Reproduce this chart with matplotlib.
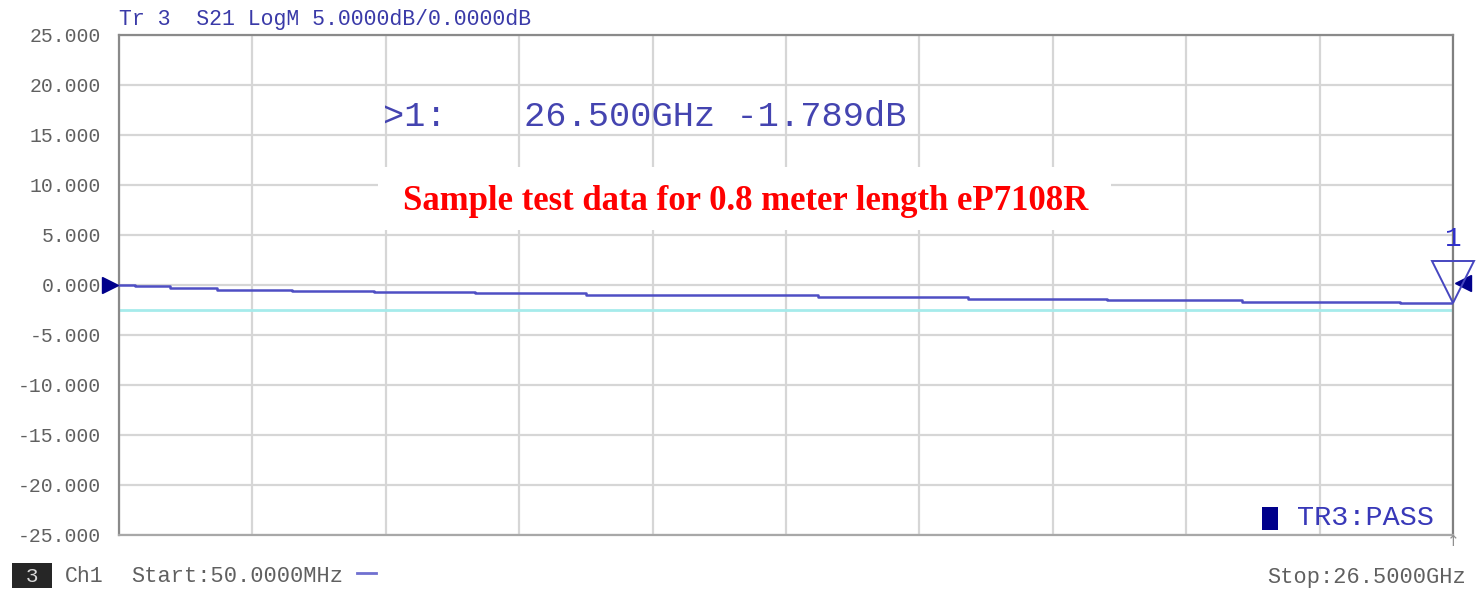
import matplotlib
matplotlib.use("Agg")
import matplotlib.pyplot as plt
import matplotlib.transforms as mtransforms
from matplotlib.patches import Rectangle
from matplotlib.lines import Line2D
import numpy as np

freq_ghz = [0.05, 0.37, 1.06, 1.99, 3.48, 5.11, 7.11, 9.31, 11.43, 13.91, 16.88, 19.64, 22.32, 25.45, 26.5]
s21_db = [0.00, -0.07, -0.30, -0.47, -0.60, -0.73, -0.83, -0.97, -1.03, -1.23, -1.37, -1.53, -1.67, -1.77, -1.789]

limit_db = -2.5
f_start, f_stop = 0.05, 26.5
y_ticks = [25, 20, 15, 10, 5, 0, -5, -10, -15, -20, -25]
y_labels = ["%.3f" % v for v in y_ticks]

marker_freq = 26.5
marker_db = -1.789

MONO = "Liberation Mono"
TRACE = "#4f4fc4"
NAVY = "#00008b"
GRAY = "#606060"

fig = plt.figure(figsize=(14.76, 5.92), dpi=100)
ax = fig.add_axes([119 / 1476, 1 - 535 / 592, 1334 / 1476, 500 / 592])

ax.set_xlim(f_start, f_stop)
ax.set_ylim(-25, 25)
ax.set_xticks(np.linspace(f_start, f_stop, 11))
ax.set_xticklabels([])
ax.set_yticks(y_ticks)
ax.set_yticklabels(y_labels, family=MONO, fontsize=14.2, color=GRAY)
ax.tick_params(length=0, pad=13)
ax.grid(True, color="#d6d6d6", linewidth=1.6)
ax.set_axisbelow(True)
for side, col in [("left", "#8a8a8a"), ("bottom", "#a8a8a8"), ("top", "#8a8a8a"), ("right", "#808080")]:
    ax.spines[side].set_color(col)
    ax.spines[side].set_linewidth(1.6)

# white box behind the caption
ax.add_patch(Rectangle(((378 - 119) / 1334, (535 - 230) / 500), 733 / 1334, 63 / 500,
                       transform=ax.transAxes, facecolor="white", edgecolor="none", zorder=1))

# limit line and trace
ax.plot([f_start, f_stop], [limit_db, limit_db], color="#a6ebeb", linewidth=2, zorder=2)
ax.plot(freq_ghz, s21_db, drawstyle="steps-post", color=TRACE, linewidth=1.8, zorder=3)

# reference arrows and marker
left_off = mtransforms.offset_copy(ax.transData, fig=fig, x=-9, y=0, units="dots")
right_off = mtransforms.offset_copy(ax.transData, fig=fig, x=10, y=2, units="dots")
mk_off = mtransforms.offset_copy(ax.transData, fig=fig, x=0, y=21, units="dots")
lbl_off = mtransforms.offset_copy(ax.transData, fig=fig, x=0, y=64, units="dots")
ax.plot([f_start], [0], marker=">", markersize=11, color=NAVY, transform=left_off, clip_on=False, zorder=5)
ax.plot([f_stop], [0], marker="<", markersize=11, color=NAVY, transform=right_off, clip_on=False, zorder=5)
ax.plot([marker_freq], [marker_db], marker="v", markersize=30, markerfacecolor="none",
        markeredgecolor="#4646c0", markeredgewidth=1.4, transform=mk_off, clip_on=False, zorder=6)
ax.text(marker_freq, marker_db, "1", transform=lbl_off, family=MONO, fontsize=20,
        color="#3030c8", ha="center", va="center", clip_on=False)

# marker readout
ax.text((383 - 119) / 1334, (535 - 117) / 500, ">1:", transform=ax.transAxes, family=MONO,
        fontsize=25.5, color="#4444b0", ha="left", va="center")
ax.text((524 - 119) / 1334, (535 - 117) / 500, "26.500GHz -1.789dB", transform=ax.transAxes,
        family=MONO, fontsize=25.5, color="#4444b0", ha="left", va="center")

# caption
ax.text((746 - 119) / 1334, (535 - 202) / 500, "Sample test data for 0.8 meter length eP7108R",
        transform=ax.transAxes, family="Liberation Serif", fontweight="bold", fontsize=25,
        color="#ff0000", ha="center", va="center", zorder=4)

# pass indicator
fig.add_artist(Rectangle((1262 / 1476, 1 - 530 / 592), 16 / 1476, 23 / 592,
                         facecolor=NAVY, edgecolor="none"))
fig.text(1297 / 1476, 1 - 518 / 592, "TR3:PASS", family=MONO, fontsize=20.5,
         color="#3838b8", ha="left", va="center")

# header and footer
fig.text(119 / 1476, 1 - 19 / 592, "Tr 3  S21 LogM 5.0000dB/0.0000dB", family=MONO,
         fontsize=15.5, color="#3a3aa8", ha="left", va="center")
fig.add_artist(Rectangle((12 / 1476, 1 - 588 / 592), 40 / 1476, 25 / 592,
                         facecolor="#262626", edgecolor="none"))
fig.text(32 / 1476, 1 - 576 / 592, "3", family=MONO, fontsize=15, color="#d8d8d8",
         ha="center", va="center")
fig.text(65 / 1476, 1 - 577 / 592, "Ch1", family=MONO, fontsize=15.5, color=GRAY,
         ha="left", va="center")
fig.text(131 / 1476, 1 - 577 / 592, "Start:50.0000MHz", family=MONO, fontsize=15.8, color=GRAY,
         ha="left", va="center")
fig.add_artist(Line2D([357 / 1476, 376 / 1476], [1 - 573 / 592, 1 - 573 / 592],
                      color="#7070d0", linewidth=2))
fig.text(1466 / 1476, 1 - 577 / 592, "Stop:26.5000GHz", family=MONO, fontsize=15.8, color=GRAY,
         ha="right", va="center")
fig.text(1453 / 1476, 1 - 541 / 592, "\u2191", family="DejaVu Sans", fontsize=11, color="#909090",
         ha="center", va="center")

fig.savefig("out.png", dpi=100)
